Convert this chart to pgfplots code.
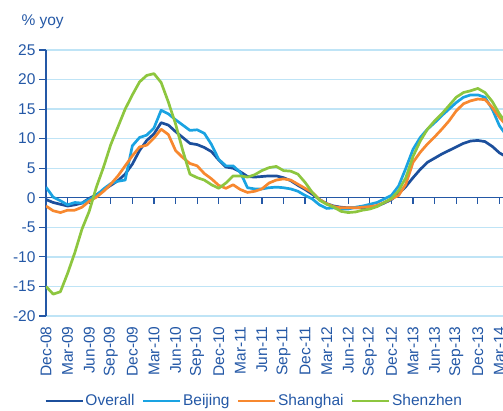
\documentclass[border=0pt]{standalone}
\usepackage{pgfplots}
\usepackage{pgfplotstable}
\pgfplotsset{compat=1.18}
\usepackage{fontspec}
\setmainfont{Liberation Sans}
\definecolor{txt}{HTML}{2458A6}
\definecolor{gridc}{HTML}{BFE4F6}
\definecolor{cO}{HTML}{1C4F9C}
\definecolor{cB}{HTML}{1AA3E2}
\definecolor{cS}{HTML}{F7882F}
\definecolor{cZ}{HTML}{8DC63F}

\pgfplotstableread{
i O B S Z
0 -0.3 1.8 -1.4 -15.0
1 -0.8 0.1 -2.2 -16.3
2 -1.1 -0.5 -2.5 -15.9
3 -1.4 -1.2 -2.1 -12.8
4 -1.2 -0.8 -2.1 -9.3
5 -0.9 -0.9 -1.6 -5.3
6 -0.1 -0.3 -0.6 -2.3
7 0.5 0.4 0.1 1.8
8 1.3 1.5 1.1 5.2
9 2.1 2.4 2.3 9.0
10 2.9 2.8 3.7 12.0
11 4.0 3.0 5.4 15.0
12 5.7 8.8 7.1 17.4
13 8.0 10.2 8.6 19.6
14 9.7 10.6 8.9 20.7
15 10.8 11.8 10.1 21.0
16 12.7 14.8 11.6 19.5
17 12.3 14.2 10.7 16.2
18 11.2 13.2 8.0 12.5
19 10.2 12.3 6.8 8.0
20 9.2 11.4 5.8 4.0
21 9.0 11.5 5.4 3.4
22 8.5 10.9 4.1 3.0
23 7.8 9.0 3.2 2.2
24 6.4 6.5 2.1 1.6
25 5.2 5.4 1.6 2.5
26 5.0 5.4 2.2 3.7
27 4.4 4.3 1.4 3.7
28 3.6 1.7 0.9 3.5
29 3.5 1.5 1.1 3.9
30 3.6 1.5 1.5 4.6
31 3.7 1.7 2.5 5.1
32 3.7 1.8 3.0 5.3
33 3.4 1.7 3.2 4.6
34 2.9 1.5 3.0 4.5
35 2.1 1.1 2.3 4.0
36 1.4 0.4 1.6 2.6
37 0.6 -0.2 0.9 0.9
38 -0.3 -1.2 -0.3 -0.4
39 -1.0 -1.8 -1.0 -1.1
40 -1.4 -1.7 -1.5 -1.6
41 -1.6 -1.9 -1.7 -2.3
42 -1.7 -1.9 -1.7 -2.5
43 -1.7 -1.6 -1.7 -2.4
44 -1.7 -1.4 -1.6 -2.1
45 -1.6 -1.1 -1.5 -1.9
46 -1.4 -0.8 -1.3 -1.5
47 -0.9 -0.2 -0.8 -0.8
48 -0.3 0.4 -0.2 -0.1
49 0.7 2.0 0.4 1.2
50 1.9 5.0 2.3 3.4
51 3.4 8.2 6.0 7.0
52 4.8 10.2 7.7 9.6
53 6.0 11.6 9.1 11.6
54 6.7 12.7 10.3 13.0
55 7.4 13.9 11.6 14.2
56 8.0 15.0 13.0 15.6
57 8.6 16.1 14.7 17.0
58 9.2 17.0 15.9 17.8
59 9.6 17.4 16.4 18.1
60 9.7 17.4 16.7 18.5
61 9.5 17.0 16.6 17.8
62 8.7 15.0 15.3 16.3
63 7.6 12.2 13.6 14.2
64 6.9 10.5 12.2 12.5
}\data

\begin{document}
\begin{tikzpicture}[font=\fontsize{15.5}{18}\selectfont]
% zero line with tick marks
\begin{axis}[
  at={(46pt,95pt)}, anchor=south west,
  scale only axis, width=457pt, height=266pt,
  xmin=0, xmax=63.5, ymin=-20, ymax=25,
  axis x line=middle, axis y line=none,
  axis line style={-, draw=txt, line width=1.2pt},
  xtick={0,3,...,63}, xticklabels={},
  tick align=outside, major tick length=6pt,
  xtick style={draw=txt, line width=1.2pt},
]
\end{axis}
% main axis
\begin{axis}[
  at={(46pt,95pt)}, anchor=south west,
  scale only axis, width=457pt, height=266pt,
  xmin=0, xmax=63.5, ymin=-20, ymax=25,
  axis x line*=bottom, axis y line*=left,
  axis line style={-},
  x axis line style={draw=none},
  y axis line style={draw=txt, line width=1.2pt},
  xtick={0,3,...,63},
  xticklabels={Dec-08,Mar-09,Jun-09,Sep-09,Dec-09,Mar-10,Jun-10,Sep-10,Dec-10,Mar-11,Jun-11,Sep-11,Dec-11,Mar-12,Jun-12,Sep-12,Dec-12,Mar-13,Jun-13,Sep-13,Dec-13,Mar-14},
  xtick style={draw=none},
  xticklabel style={rotate=90, anchor=east, text=txt, font=\fontsize{15.5}{18}\selectfont},
  ytick={-20,-15,-10,-5,5,10,15,20,25},
  extra y ticks={0},
  extra y tick style={grid=none},
  ytick style={draw=txt, line width=1.2pt},
  tick align=outside, major tick length=7pt,
  yticklabel style={text=txt, font=\fontsize{15.5}{18}\selectfont},
  ymajorgrids, grid style={draw=gridc, line width=1.3pt},
  /pgf/number format/assume math mode=true,
  legend columns=4,
  legend style={at={(axis description cs:0.455,-0.32)}, anchor=center, draw=none, fill=none,
    font=\fontsize{15.5}{18}\selectfont, text=txt, nodes={inner sep=1.5pt},
    /tikz/every even column/.append style={column sep=6pt}},
  legend image code/.code={\draw[#1, line width=2.5pt] (0pt,0pt) -- (37pt,0pt);},
  every axis plot/.append style={line width=2.7pt, line join=round},
]
\addplot[cO] table[x=i,y=O] {\data};
\addlegendentry{Overall}
\addplot[cB] table[x=i,y=B] {\data};
\addlegendentry{Beijing}
\addplot[cS] table[x=i,y=S] {\data};
\addlegendentry{Shanghai}
\addplot[cZ] table[x=i,y=Z] {\data};
\addlegendentry{Shenzhen}
\end{axis}
\node[anchor=base west, text=txt] at (18pt,385pt) {\% yoy};
\pgfresetboundingbox
\useasboundingbox (0,0) rectangle (503pt,411pt);
\end{tikzpicture}
\end{document}
